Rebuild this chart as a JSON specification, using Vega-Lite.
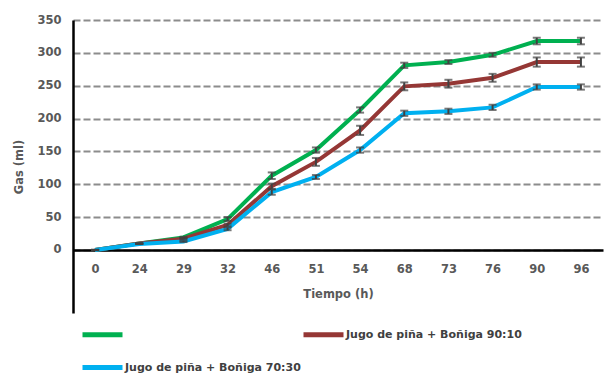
{
  "$schema": "https://vega.github.io/schema/vega-lite/v6.json",
  "width": 530,
  "height": 293,
  "autosize": {"type": "none"},
  "padding": {"left": 73, "top": 20, "right": 1, "bottom": 61},
  "config": {"view": {"stroke": null}, "font": "DejaVu Sans"},
  "data": {"values": [
    {"t": 0, "s": "", "gas": 0, "err": 0},
    {"t": 24, "s": "", "gas": 10, "err": 0},
    {"t": 29, "s": "", "gas": 19, "err": 1},
    {"t": 32, "s": "", "gas": 47, "err": 3},
    {"t": 46, "s": "", "gas": 113, "err": 5},
    {"t": 51, "s": "", "gas": 152, "err": 4},
    {"t": 54, "s": "", "gas": 213, "err": 4},
    {"t": 68, "s": "", "gas": 281, "err": 4},
    {"t": 73, "s": "", "gas": 286, "err": 3},
    {"t": 76, "s": "", "gas": 297, "err": 3},
    {"t": 90, "s": "", "gas": 318, "err": 5},
    {"t": 96, "s": "", "gas": 318, "err": 5},
    {"t": 0, "s": "Jugo de piña + Boñiga 90:10", "gas": 0, "err": 0},
    {"t": 24, "s": "Jugo de piña + Boñiga 90:10", "gas": 10, "err": 0},
    {"t": 29, "s": "Jugo de piña + Boñiga 90:10", "gas": 17, "err": 1},
    {"t": 32, "s": "Jugo de piña + Boñiga 90:10", "gas": 38, "err": 2},
    {"t": 46, "s": "Jugo de piña + Boñiga 90:10", "gas": 97, "err": 4},
    {"t": 51, "s": "Jugo de piña + Boñiga 90:10", "gas": 134, "err": 6},
    {"t": 54, "s": "Jugo de piña + Boñiga 90:10", "gas": 182, "err": 7},
    {"t": 68, "s": "Jugo de piña + Boñiga 90:10", "gas": 249, "err": 6},
    {"t": 73, "s": "Jugo de piña + Boñiga 90:10", "gas": 253, "err": 6},
    {"t": 76, "s": "Jugo de piña + Boñiga 90:10", "gas": 262, "err": 6},
    {"t": 90, "s": "Jugo de piña + Boñiga 90:10", "gas": 286, "err": 7},
    {"t": 96, "s": "Jugo de piña + Boñiga 90:10", "gas": 286, "err": 7},
    {"t": 0, "s": "Jugo de piña + Boñiga 70:30", "gas": 0, "err": 0},
    {"t": 24, "s": "Jugo de piña + Boñiga 70:30", "gas": 9, "err": 0},
    {"t": 29, "s": "Jugo de piña + Boñiga 70:30", "gas": 13, "err": 1},
    {"t": 32, "s": "Jugo de piña + Boñiga 70:30", "gas": 32, "err": 2},
    {"t": 46, "s": "Jugo de piña + Boñiga 70:30", "gas": 88, "err": 4},
    {"t": 51, "s": "Jugo de piña + Boñiga 70:30", "gas": 111, "err": 3},
    {"t": 54, "s": "Jugo de piña + Boñiga 70:30", "gas": 152, "err": 4},
    {"t": 68, "s": "Jugo de piña + Boñiga 70:30", "gas": 208, "err": 4},
    {"t": 73, "s": "Jugo de piña + Boñiga 70:30", "gas": 211, "err": 4},
    {"t": 76, "s": "Jugo de piña + Boñiga 70:30", "gas": 217, "err": 4},
    {"t": 90, "s": "Jugo de piña + Boñiga 70:30", "gas": 248, "err": 4},
    {"t": 96, "s": "Jugo de piña + Boñiga 70:30", "gas": 248, "err": 4}
  ]},
  "encoding": {
    "x": {
      "field": "t", "type": "ordinal", "sort": null,
      "scale": {"type": "point", "padding": 0.5},
      "axis": {
        "title": "Tiempo (h)", "labelAngle": 0, "ticks": false, "offset": -63,
        "domainColor": "#000000", "domainWidth": 2.5,
        "labelFont": "DejaVu Sans", "labelFontWeight": "bold", "labelFontSize": 11.5, "labelColor": "#595959",
        "labelPadding": 13, "titlePadding": 14,
        "titleFont": "DejaVu Sans", "titleFontWeight": "bold", "titleFontSize": 11.5, "titleColor": "#595959",
        "grid": false
      }
    },
    "y": {
      "field": "gas", "type": "quantitative",
      "scale": {"domain": [-96, 350], "nice": false, "zero": false},
      "axis": {
        "title": "Gas (ml)", "values": [0, 50, 100, 150, 200, 250, 300, 350], "ticks": false,
        "domainColor": "#000000", "domainWidth": 2.5,
        "labelFont": "DejaVu Sans", "labelFontWeight": "bold", "labelFontSize": 11.5, "labelColor": "#595959",
        "labelPadding": 12, "titlePadding": 12,
        "titleFont": "DejaVu Sans", "titleFontWeight": "bold", "titleFontSize": 11.5, "titleColor": "#595959",
        "grid": true, "gridDash": [7, 3], "gridColor": "#8c8c8c", "gridWidth": 2
      }
    }
  },
  "layer": [
    {
      "mark": {"type": "line", "strokeWidth": 4},
      "encoding": {
        "color": {
          "field": "s", "type": "nominal",
          "scale": {"domain": ["", "Jugo de piña + Boñiga 90:10", "Jugo de piña + Boñiga 70:30"], "range": ["#00b050", "#953735", "#00b0f0"]},
          "legend": {
            "title": null, "orient": "none", "legendX": 7, "legendY": 292, "columns": 2, "direction": "horizontal",
            "symbolType": "stroke", "symbolSize": 1600, "symbolStrokeWidth": 5,
            "labelFont": "DejaVu Sans", "labelFontWeight": "bold", "labelFontSize": 11, "labelColor": "#404040",
            "labelOffset": 0, "columnPadding": -10, "rowPadding": -17, "labelLimit": 300
          }
        }
      }
    },
    {
      "mark": {"type": "errorbar", "ticks": {"size": 8}, "color": "#404040", "thickness": 2},
      "encoding": {
        "yError": {"field": "err"},
        "detail": {"field": "s"}
      }
    }
  ]
}
